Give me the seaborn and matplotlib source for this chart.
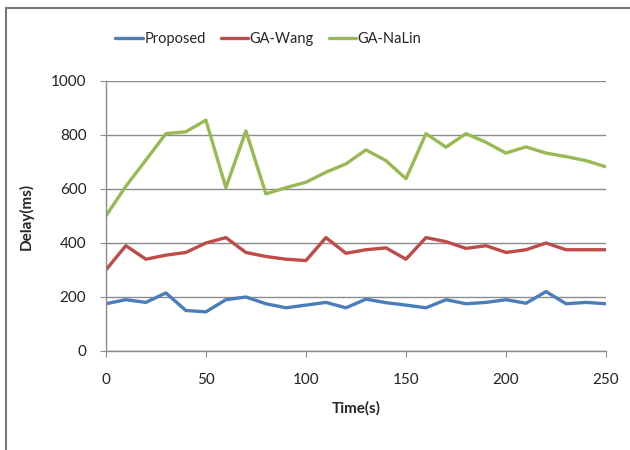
import numpy as np
import pandas as pd
import matplotlib
matplotlib.use("Agg")
import matplotlib.pyplot as plt
import seaborn as sns
from matplotlib.patches import Rectangle

time_s = list(range(0, 260, 10))
proposed = [175, 190, 180, 215, 150, 145, 190, 200, 175, 160, 170, 180, 160, 192,
            179, 170, 160, 190, 175, 180, 190, 177, 220, 175, 180, 175]
ga_wang = [300, 390, 340, 355, 365, 400, 420, 365, 350, 340, 335, 420, 362, 375,
           382, 340, 420, 405, 380, 390, 365, 375, 400, 375, 375, 375]
ga_nalin = [500, 610, 707, 805, 812, 855, 605, 815, 582, 605, 625, 662, 693, 745,
            705, 638, 805, 755, 805, 773, 733, 756, 733, 720, 705, 682]

series = ["Proposed", "GA-Wang", "GA-NaLin"]
colors = ["#4a7ebb", "#be4b48", "#98b954"]

df = pd.DataFrame({
    "Time": time_s * 3,
    "Delay": proposed + ga_wang + ga_nalin,
    "Series": [s for s in series for _ in time_s],
})

sns.set_style("white")
plt.rcParams["font.family"] = ["Lato", "DejaVu Sans"]

fig = plt.figure(figsize=(6.3, 4.5), dpi=100)
ax = fig.add_axes([0.168, 0.22, 0.794, 0.60])

sns.lineplot(data=df, x="Time", y="Delay", hue="Series", hue_order=series,
             palette=colors, linewidth=2.4, ax=ax, legend=True)

ax.set_xlim(0, 250)
ax.set_ylim(0, 1000)
ax.set_xticks(range(0, 251, 50))
ax.set_yticks(range(0, 1001, 200))
ax.yaxis.grid(True, color="#8c8c8c", linewidth=1.0)
ax.set_axisbelow(True)
for side in ["top", "right"]:
    ax.spines[side].set_visible(False)
for side in ["left", "bottom"]:
    ax.spines[side].set_color("#8c8c8c")
    ax.spines[side].set_linewidth(1.0)
ax.tick_params(axis="both", direction="out", length=4, color="#8c8c8c",
               labelsize=11, labelcolor="#222222", left=True, bottom=True)
ax.tick_params(axis="x", pad=12)
ax.tick_params(axis="y", pad=10)
ax.set_xlabel("Time(s)", fontsize=11, fontweight="bold", labelpad=10)
ax.set_ylabel("Delay(ms)", fontsize=11, fontweight="bold", labelpad=12)

ax.legend(loc="center", bbox_to_anchor=(0.325, 1.155), ncol=3, frameon=False,
          fontsize=10.5, handlelength=1.9, handletextpad=0.1, columnspacing=1.0)

fig.patches.append(Rectangle((6 / 630, -0.1), 1.2, 1 - 8 / 450 + 0.1,
                             transform=fig.transFigure, fill=False,
                             edgecolor="#777777", linewidth=1.5))

fig.savefig("out.png", dpi=100)
